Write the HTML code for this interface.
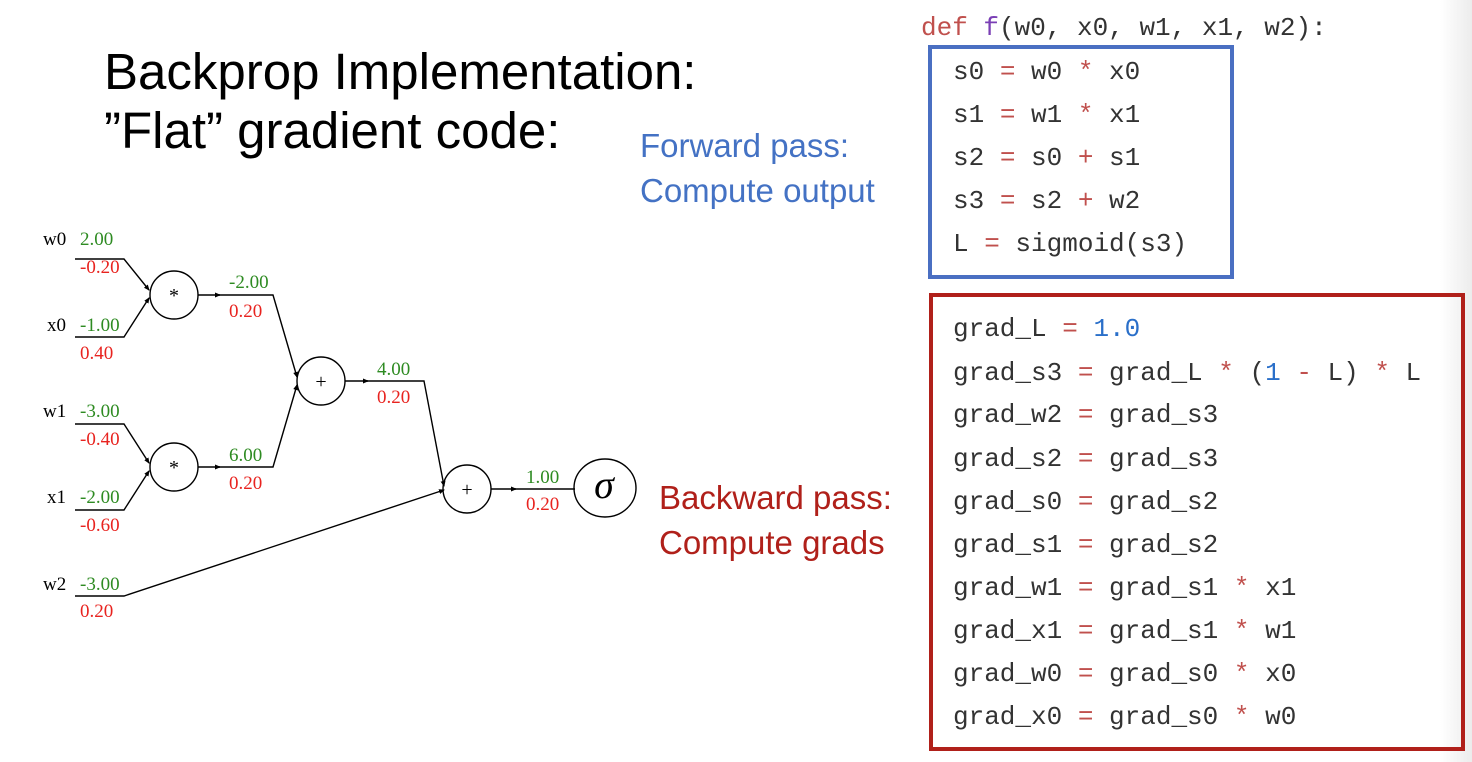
<!DOCTYPE html>
<html><head><meta charset="utf-8"><style>
html,body{margin:0;padding:0;background:#fff;width:1472px;height:762px;overflow:hidden}
svg{display:block}
.m{font-family:"Liberation Mono","DejaVu Sans Mono",monospace;font-size:26px;fill:#333}
.op{fill:#c0504d}
.num{fill:#2a6fc9}
.g{font-family:"Liberation Serif",serif;font-size:19px;fill:#2e8b22}
.r{font-family:"Liberation Serif",serif;font-size:19px;fill:#e8231f}
.k{font-family:"Liberation Serif",serif;font-size:19px;fill:#000}
</style></head><body>
<svg width="1472" height="762" viewBox="0 0 1472 762" xmlns="http://www.w3.org/2000/svg">
<defs><linearGradient id="sh" x1="0" x2="1"><stop offset="0" stop-color="#fff"/><stop offset="1" stop-color="#ececec"/></linearGradient>
<marker id="a" markerWidth="6" markerHeight="5" refX="5" refY="2.5" orient="auto" markerUnits="userSpaceOnUse"><path d="M0,0 L6,2.5 L0,5z" fill="#000"/></marker></defs>
<rect x="1440" y="0" width="32" height="762" fill="url(#sh)"/>
<text x="104" y="89" font-family="Liberation Sans, sans-serif" font-size="51" fill="#000">Backprop Implementation:</text>
<text x="104" y="148" font-family="Liberation Sans, sans-serif" font-size="51" fill="#000">”Flat” gradient code:</text>
<text x="640" y="157" font-family="Liberation Sans, sans-serif" font-size="33" fill="#4472c4">Forward pass:</text>
<text x="640" y="202" font-family="Liberation Sans, sans-serif" font-size="33" fill="#4472c4">Compute output</text>
<text x="659" y="509" font-family="Liberation Sans, sans-serif" font-size="33" fill="#b0201a">Backward pass:</text>
<text x="659" y="554" font-family="Liberation Sans, sans-serif" font-size="33" fill="#b0201a">Compute grads</text>

<text class="m" x="921" y="35"><tspan fill="#c0504d">def</tspan> <tspan fill="#7a3fb5">f</tspan>(w0, x0, w1, x1, w2):</text>
<rect x="930" y="47" width="302" height="230" fill="none" stroke="#4a6fc2" stroke-width="4"/>
<g class="m">
<text x="953" y="79">s0 <tspan class="op">=</tspan> w0 <tspan class="op">*</tspan> x0</text>
<text x="953" y="122">s1 <tspan class="op">=</tspan> w1 <tspan class="op">*</tspan> x1</text>
<text x="953" y="165">s2 <tspan class="op">=</tspan> s0 <tspan class="op">+</tspan> s1</text>
<text x="953" y="208">s3 <tspan class="op">=</tspan> s2 <tspan class="op">+</tspan> w2</text>
<text x="953" y="251">L <tspan class="op">=</tspan> sigmoid(s3)</text>
</g>
<rect x="931" y="295" width="532" height="454" fill="none" stroke="#b0201a" stroke-width="4"/>
<g class="m">
<text x="953" y="336">grad_L <tspan class="op">=</tspan> <tspan class="num">1.0</tspan></text>
<text x="953" y="380">grad_s3 <tspan class="op">=</tspan> grad_L <tspan class="op">*</tspan> (<tspan class="num">1</tspan> <tspan class="op">-</tspan> L) <tspan class="op">*</tspan> L</text>
<text x="953" y="422">grad_w2 <tspan class="op">=</tspan> grad_s3</text>
<text x="953" y="466">grad_s2 <tspan class="op">=</tspan> grad_s3</text>
<text x="953" y="509">grad_s0 <tspan class="op">=</tspan> grad_s2</text>
<text x="953" y="552">grad_s1 <tspan class="op">=</tspan> grad_s2</text>
<text x="953" y="595">grad_w1 <tspan class="op">=</tspan> grad_s1 <tspan class="op">*</tspan> x1</text>
<text x="953" y="638">grad_x1 <tspan class="op">=</tspan> grad_s1 <tspan class="op">*</tspan> w1</text>
<text x="953" y="681">grad_w0 <tspan class="op">=</tspan> grad_s0 <tspan class="op">*</tspan> x0</text>
<text x="953" y="724">grad_x0 <tspan class="op">=</tspan> grad_s0 <tspan class="op">*</tspan> w0</text>
</g>

<g fill="none" stroke="#000" stroke-width="1.4">
<polyline points="75,259 124,259 149,290" marker-end="url(#a)"/>
<polyline points="75,337 124,337 149,298" marker-end="url(#a)"/>
<polyline points="75,424 124,424 149,463" marker-end="url(#a)"/>
<polyline points="75,510 124,510 149,471" marker-end="url(#a)"/>
<polyline points="198,295 220,295" marker-end="url(#a)"/><polyline points="218,295 273,295 297,377" marker-end="url(#a)"/>
<polyline points="198,467 220,467" marker-end="url(#a)"/><polyline points="218,467 273,467 297,385" marker-end="url(#a)"/>
<polyline points="345,381 368,381" marker-end="url(#a)"/><polyline points="366,381 424,381 444,486" marker-end="url(#a)"/>
<polyline points="75,596 124,596 444,490" marker-end="url(#a)"/>
<polyline points="491,489 516,489" marker-end="url(#a)"/><polyline points="514,489 575,489"/>
<circle cx="174" cy="295" r="24"/><circle cx="174" cy="467" r="24"/>
<circle cx="321" cy="381" r="24"/><circle cx="467" cy="489" r="24"/>
<ellipse cx="605" cy="488" rx="31" ry="29"/>
</g>
<g font-family="Liberation Serif,serif" font-size="20" text-anchor="middle">
<text x="174" y="302">*</text><text x="174" y="474">*</text>
<text x="321" y="388">+</text><text x="467" y="496">+</text>
<text x="604" y="498" font-size="40" font-style="italic">σ</text>
</g>
<text class="k" x="43" y="245">w0</text><text class="g" x="80" y="245">2.00</text><text class="r" x="80" y="273">-0.20</text>
<text class="k" x="47" y="331">x0</text><text class="g" x="80" y="331">-1.00</text><text class="r" x="80" y="359">0.40</text>
<text class="k" x="43" y="417">w1</text><text class="g" x="80" y="417">-3.00</text><text class="r" x="80" y="445">-0.40</text>
<text class="k" x="47" y="503">x1</text><text class="g" x="80" y="503">-2.00</text><text class="r" x="80" y="531">-0.60</text>
<text class="k" x="43" y="590">w2</text><text class="g" x="80" y="590">-3.00</text><text class="r" x="80" y="617">0.20</text>
<text class="g" x="229" y="288">-2.00</text><text class="r" x="229" y="317">0.20</text>
<text class="g" x="229" y="461">6.00</text><text class="r" x="229" y="489">0.20</text>
<text class="g" x="377" y="375">4.00</text><text class="r" x="377" y="403">0.20</text>
<text class="g" x="526" y="483">1.00</text><text class="r" x="526" y="510">0.20</text>
</svg>
</body></html>
